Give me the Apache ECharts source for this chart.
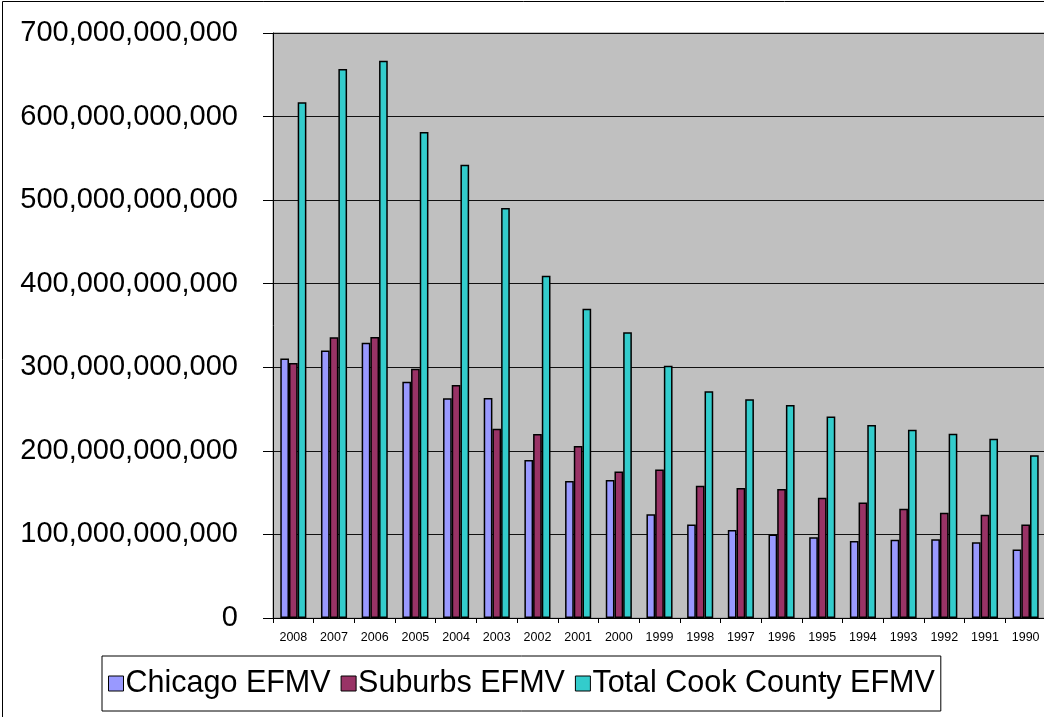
<!DOCTYPE html>
<html>
<head>
<meta charset="utf-8">
<title>Cook County EFMV</title>
<script src="https://cdn.jsdelivr.net/npm/echarts@6/dist/echarts.min.js"></script>
<style>
  html, body { margin: 0; padding: 0; background: #fff; }
  #chart { width: 1044px; height: 717px; }
</style>
</head>
<body>
<div id="chart"></div>
<script>
// Tax years, newest first
const years = ['2008','2007','2006','2005','2004','2003','2002','2001','2000','1999',
               '1998','1997','1996','1995','1994','1993','1992','1991','1990'];

// Equalized fair market value, in dollars
const chicagoEFMV = [310.6e9, 320.2e9, 329.4e9, 282.8e9, 262.8e9, 263.2e9, 189.1e9, 163.9e9, 165.1e9, 124.0e9,
                     112.0e9, 105.3e9, 100.0e9, 96.5e9, 92.1e9, 93.7e9, 94.1e9, 90.5e9, 82.1e9];
const suburbsEFMV = [305.1e9, 335.8e9, 336.2e9, 298.3e9, 278.8e9, 226.5e9, 220.2e9, 205.8e9, 175.4e9, 177.8e9,
                     158.3e9, 155.6e9, 154.3e9, 144.0e9, 138.3e9, 130.8e9, 126.0e9, 123.6e9, 112.0e9];
const totalEFMV   = [617.0e9, 657.0e9, 666.9e9, 581.5e9, 542.4e9, 490.6e9, 409.6e9, 370.1e9, 341.8e9, 301.9e9,
                     271.2e9, 261.8e9, 254.9e9, 241.2e9, 230.9e9, 225.3e9, 220.5e9, 214.5e9, 194.6e9];

const seriesNames = ['Chicago EFMV', 'Suburbs EFMV', 'Total Cook County EFMV'];
const seriesColors = ['#9999FF', '#993366', '#33CCCC'];

const FONT = 'Liberation Sans, Arial, sans-serif';

const chart = echarts.init(document.getElementById('chart'), null, { renderer: 'canvas' });

function barSeries(name, data, color) {
  return {
    name: name,
    type: 'bar',
    data: data,
    barWidth: 8.7,
    barGap: '0%',
    itemStyle: { color: color, borderColor: '#000', borderWidth: 1.5 },
    emphasis: { disabled: true },
    animation: false
  };
}

chart.setOption({
  animation: false,
  backgroundColor: '#ffffff',
  textStyle: { fontFamily: FONT },
  graphic: [{
    type: 'rect',
    shape: { x: 2.5, y: 1.5, width: 1100, height: 800 },
    style: { fill: 'none', stroke: '#000', lineWidth: 1 },
    silent: true,
    z: 100
  }],
  grid: {
    left: 273,
    top: 33,
    right: -2,
    bottom: 99,
    containLabel: false,
    outerBoundsMode: 'none',
    show: true,
    backgroundColor: '#C0C0C0',
    borderColor: '#8a8a8a',
    borderWidth: 1
  },
  legend: {
    data: seriesNames,
    left: 102,
    top: 656,
    orient: 'horizontal',
    padding: [12, 6],
    itemGap: 10,
    itemWidth: 15,
    itemHeight: 15,
    icon: 'rect',
    backgroundColor: '#ffffff',
    borderColor: '#000',
    borderWidth: 1,
    borderRadius: 0,
    selectedMode: false,
    textStyle: { fontFamily: FONT, fontSize: 30.5, color: '#000', padding: [0, 0, 0, -3] },
    itemStyle: { borderColor: '#000', borderWidth: 1 }
  },
  xAxis: {
    type: 'category',
    data: years,
    boundaryGap: true,
    axisLine: { show: true, lineStyle: { color: '#000', width: 1 } },
    axisTick: { show: true, length: 5, lineStyle: { color: '#000' } },
    axisLabel: { interval: 0, margin: 13, fontFamily: FONT, fontSize: 12.5, color: '#000', hideOverlap: false },
    splitLine: { show: false }
  },
  yAxis: {
    type: 'value',
    min: 0,
    max: 700e9,
    interval: 100e9,
    axisLine: { show: true, lineStyle: { color: '#000', width: 1 } },
    axisTick: { show: true, length: 10, lineStyle: { color: '#000' } },
    axisLabel: {
      margin: 35,
      fontFamily: FONT,
      fontSize: 29,
      color: '#000',
      formatter: function (v) { return Math.round(v).toLocaleString('en-US'); }
    },
    splitLine: { show: true, lineStyle: { color: '#111', width: 1 } }
  },
  series: [
    barSeries(seriesNames[0], chicagoEFMV, seriesColors[0]),
    barSeries(seriesNames[1], suburbsEFMV, seriesColors[1]),
    barSeries(seriesNames[2], totalEFMV, seriesColors[2])
  ]
});
</script>
</body>
</html>
